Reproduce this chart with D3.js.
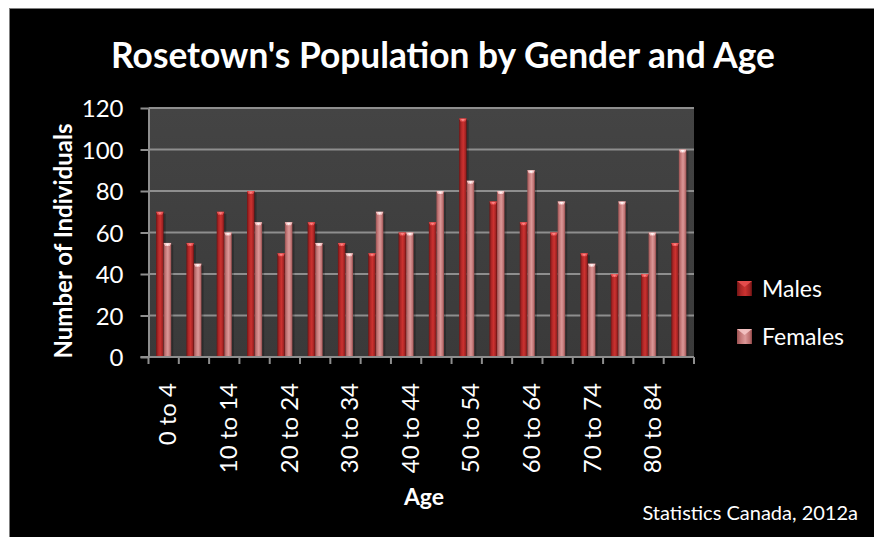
<!DOCTYPE html>
<html><head><meta charset="utf-8">
<script src="https://cdn.jsdelivr.net/npm/d3@7/dist/d3.min.js"></script>
<style>
html,body{margin:0;padding:0;background:#fff;}
svg{display:block;}
text{font-family:Lato,"Open Sans",sans-serif;fill:#fff;}
</style></head>
<body>
<svg id="chart" width="874" height="537"></svg>
<script>
const categories = ["0 to 4","5 to 9","10 to 14","15 to 19","20 to 24","25 to 29","30 to 34","35 to 39","40 to 44","45 to 49","50 to 54","55 to 59","60 to 64","65 to 69","70 to 74","75 to 79","80 to 84","85 and over"];
const shownLabels = ["0 to 4","10 to 14","20 to 24","30 to 34","40 to 44","50 to 54","60 to 64","70 to 74","80 to 84"];
const series = ["Males","Females"];
const males   = [70,55,70,80,50,65,55,50,60,65,115,75,65,60,50,40,40,55];
const females = [55,45,60,65,65,55,50,70,60,80,85,80,90,75,45,75,60,100];
const yTicks = [0,20,40,60,80,100,120];
const title = "Rosetown's Population by Gender and Age";
const yTitle = "Number of Individuals";
const xTitle = "Age";
const source = "Statistics Canada, 2012a";

const svg = d3.select("#chart");
const W = 874, H = 537;
const m = {left:148.5, right:694, top:108, bottom:357};

// outer frame
svg.append("rect").attr("x",9.5).attr("y",8.5).attr("width",W+20).attr("height",H+20)
  .attr("fill","#000").attr("stroke","#7f7f7f").attr("stroke-width",1);

const defs = svg.append("defs");
function grad(id, stops){
  const g = defs.append("linearGradient").attr("id",id).attr("x1","0%").attr("x2","100%").attr("y1","0%").attr("y2","0%");
  stops.forEach(s=>g.append("stop").attr("offset",s[0]).attr("stop-color",s[1]));
}
grad("gM",[["0%","#701414"],["25%","#ac2626"],["55%","#cc3230"],["85%","#a02222"],["100%","#601010"]]);
grad("gF",[["0%","#9a5050"],["25%","#c47878"],["55%","#dc9898"],["85%","#bc7070"],["100%","#8a4444"]]);
const pg = defs.append("linearGradient").attr("id","gP").attr("x1","0").attr("x2","0").attr("y1","0").attr("y2","1");
pg.append("stop").attr("offset","0%").attr("stop-color","#444444");
pg.append("stop").attr("offset","100%").attr("stop-color","#3a3a3a");

const x0 = d3.scaleBand().domain(categories).range([m.left, m.right]).padding(0);
const bw = x0.bandwidth();
const xs = d3.scaleBand().domain(series).range([bw*0.25, bw*0.75]);
const y = d3.scaleLinear().domain([0,120]).range([m.bottom, m.top]);

// plot background
svg.append("rect").attr("x",m.left).attr("y",m.top).attr("width",m.right-m.left).attr("height",m.bottom-m.top)
  .attr("fill","url(#gP)");

// gridlines
svg.append("g").selectAll("line").data(yTicks.filter(d=>d>0)).join("line")
  .attr("x1",m.left).attr("x2",m.right).attr("y1",d=>y(d)).attr("y2",d=>y(d))
  .attr("stroke","#8e8e8e").attr("stroke-width",2);

// bars
const data = categories.map((c,i)=>({cat:c, vals:[{s:"Males",v:males[i]},{s:"Females",v:females[i]}]}));
const groups = svg.append("g").selectAll("g").data(data).join("g")
  .attr("transform",d=>`translate(${x0(d.cat)},0)`);
groups.selectAll("rect.sh").data(d=>d.vals).join("rect").attr("class","sh")
  .attr("x",d=>xs(d.s)+2).attr("y",d=>y(d.v)+2).attr("width",xs.bandwidth())
  .attr("height",d=>m.bottom-y(d.v)-2).attr("fill","#000").attr("opacity",0.25);
groups.selectAll("rect.bar").data(d=>d.vals).join("rect").attr("class","bar")
  .attr("x",d=>xs(d.s)).attr("y",d=>y(d.v)).attr("width",xs.bandwidth())
  .attr("height",d=>m.bottom-y(d.v))
  .attr("fill",d=>d.s==="Males"?"url(#gM)":"url(#gF)");
groups.selectAll("path.cap").data(d=>d.vals).join("path").attr("class","cap")
  .attr("d",d=>{const a=xs(d.s), b=a+xs.bandwidth(), t=y(d.v);
    return `M${a},${t}L${b},${t}L${b-1.5},${t+3}L${a+1.5},${t+3}Z`;})
  .attr("fill",d=>d.s==="Males"?"#e85050":"#f4c4c4");
groups.selectAll("path.tri").data(d=>d.vals).join("path").attr("class","tri")
  .attr("d",d=>{const a=xs(d.s), b=a+xs.bandwidth(), t=y(d.v), c=(a+b)/2;
    return `M${c-2},${t+0.5}L${c+2},${t+0.5}L${c},${t+3}Z`;})
  .attr("fill",d=>d.s==="Males"?"#ff9090":"#ffffff").attr("opacity",0.8);

// y axis
const yAxis = svg.append("g").attr("transform",`translate(${m.left},0)`)
  .call(d3.axisLeft(y).tickValues(yTicks).tickSize(8).tickPadding(17).tickSizeOuter(0));
yAxis.select(".domain").attr("stroke","#8e8e8e").attr("stroke-width",2);
yAxis.selectAll(".tick line").attr("stroke","#8e8e8e").attr("stroke-width",2);
yAxis.selectAll("text").attr("fill","#fff").style("font-family","Lato").style("font-size","24px")
  .attr("dy","0.36em");

// x axis line + ticks at category boundaries
const bounds = categories.map(c=>x0(c)).concat([x0(categories[categories.length-1])+bw]);
svg.append("line").attr("x1",m.left-8).attr("x2",m.right).attr("y1",m.bottom).attr("y2",m.bottom)
  .attr("stroke","#8e8e8e").attr("stroke-width",2);
svg.append("g").selectAll("line").data(bounds).join("line")
  .attr("x1",d=>d).attr("x2",d=>d).attr("y1",m.bottom).attr("y2",m.bottom+7)
  .attr("stroke","#8e8e8e").attr("stroke-width",2);

// x labels
svg.append("g").selectAll("text").data(shownLabels).join("text")
  .attr("transform",d=>`translate(${x0(d)+bw/2+4},${m.bottom+26}) rotate(-90)`)
  .attr("text-anchor","end").attr("dy","0.36em")
  .style("font-size","24px").text(d=>d);

// titles
svg.append("text").attr("x",443).attr("y",68).attr("text-anchor","middle")
  .style("font-size","35.3px").style("font-weight","bold").text(title);
svg.append("text").attr("transform","translate(63,241) rotate(-90)").attr("text-anchor","middle")
  .attr("dy","0.36em").style("font-size","24px").style("font-weight","bold").text(yTitle);
svg.append("text").attr("x",424).attr("y",505).attr("text-anchor","middle")
  .style("font-size","23px").style("font-weight","bold").text(xTitle);
svg.append("text").attr("x",858).attr("y",520).attr("text-anchor","end")
  .style("font-size","20px").text(source);

// legend
const lg = svg.append("g").selectAll("g").data(series).join("g")
  .attr("transform",(d,i)=>`translate(737,${281+i*48})`);
lg.append("rect").attr("width",15).attr("height",15)
  .attr("fill",d=>d==="Males"?"url(#gM)":"url(#gF)");
lg.append("path").attr("d","M0,0L15,0L7.5,6Z").attr("fill",d=>d==="Males"?"#e85050":"#f4c4c4").attr("opacity",0.9);
lg.append("text").attr("x",25).attr("y",7.5).attr("dy","0.36em").style("font-size","23px").text(d=>d);
</script>
</body></html>
